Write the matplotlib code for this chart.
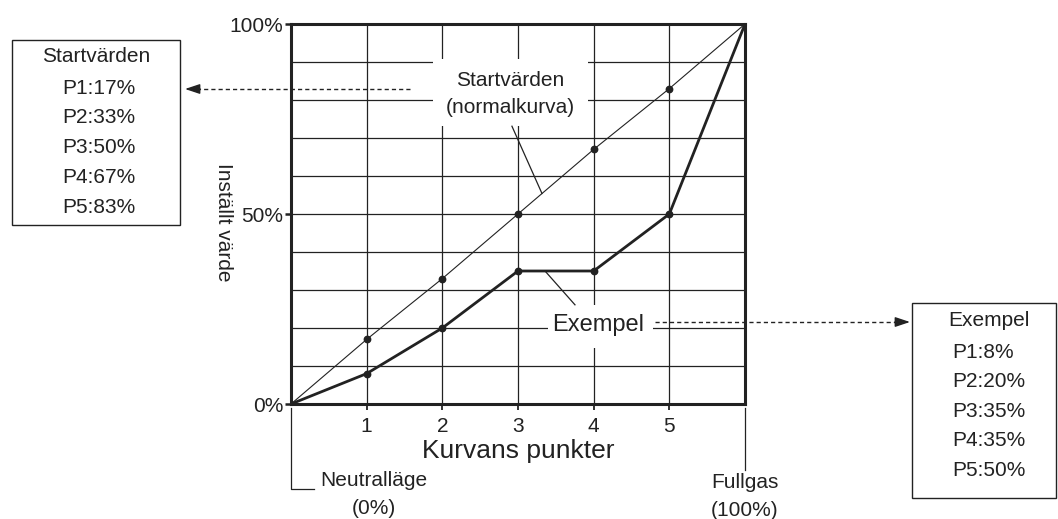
import matplotlib
matplotlib.use("Agg")
import numpy as np
from matplotlib import pyplot as plt
from matplotlib.patches import Rectangle
from matplotlib.lines import Line2D
from matplotlib.transforms import Affine2D

plt.rcParams['font.family'] = ['Liberation Sans', 'DejaVu Sans']

# curve points 0..6 (0 = neutral, 6 = full throttle)
points = [0, 1, 2, 3, 4, 5, 6]
start_vals = [0, 17, 33, 50, 67, 83, 100]
exempel_vals = [0, 8, 20, 35, 35, 50, 100]
point_labels = ["P1", "P2", "P3", "P4", "P5"]
y_tick_vals = [0, 50, 100]
y_tick_labels = ["0%", "50%", "100%"]

INK = "#222222"
W, H = 1058, 519

fig = plt.figure(figsize=(W / 100, H / 100), dpi=100)
# pixel coordinates measured from the top-left corner
T = Affine2D().scale(1 / W, -1 / H).translate(0, 1) + fig.transFigure

ax = fig.add_axes([291 / W, 115 / H, 454 / W, 380 / H])
ax.set_xlim(0, 6)
ax.set_ylim(0, 100)

# grid
for x in points[1:-1]:
    ax.axvline(x, color=INK, lw=0.9, zorder=1)
for y in range(10, 100, 10):
    ax.axhline(y, color=INK, lw=0.9, zorder=1)

# white boxes behind the in-plot labels
ax.add_patch(Rectangle((1.877, 73.1), 2.048, 17.6, facecolor="white",
                       edgecolor="none", zorder=2))
ax.add_patch(Rectangle((3.40, 14.8), 1.38, 11.3, facecolor="white",
                       edgecolor="none", zorder=2))

# curves
ax.plot(points, start_vals, color=INK, lw=0.8, zorder=3)
ax.plot(points[1:-1], start_vals[1:-1], 'o', color=INK, ms=4.6, zorder=4)
ax.plot(points, exempel_vals, color=INK, lw=2.0, zorder=3,
        solid_joinstyle='round')
ax.plot(points[1:-1], exempel_vals[1:-1], 'o', color=INK, ms=4.6, zorder=4)

# pointer lines from the labels to the curves
x0, x1 = 2.92, 3.317
ax.plot([x0, x1], [73.1, np.interp(x1, points, start_vals)], color=INK,
        lw=0.9, zorder=3)
x0, x1 = 3.357, 3.753
ax.plot([x0, x1], [np.interp(x0, points, exempel_vals), 26.1], color=INK,
        lw=0.9, zorder=3)

ax.text(2.894, 85.0, "Startvärden", ha="center", va="center", fontsize=15,
        color=INK, zorder=5)
ax.text(2.894, 78.1, "(normalkurva)", ha="center", va="center", fontsize=15,
        color=INK, zorder=5)
ax.text(4.06, 20.7, "Exempel", ha="center", va="center", fontsize=17,
        color=INK, zorder=5)

# axes styling
for s in ax.spines.values():
    s.set_linewidth(2.2)
    s.set_color(INK)
    s.set_zorder(6)
ax.set_xticks(points[1:-1])
ax.set_yticks(y_tick_vals)
ax.set_yticklabels(y_tick_labels)
ax.tick_params(axis="x", direction="out", length=4, width=1.3, pad=5,
               labelsize=15, colors=INK)
ax.tick_params(axis="y", direction="out", length=4.5, width=1.8, pad=1,
               labelsize=15, colors=INK)
ax.set_xlabel("Kurvans punkter", fontsize=19, color=INK)
ax.xaxis.set_label_coords(0.5, -0.093)

fig.text(223, 222, "Inställt värde", transform=T, rotation=-90,
         ha="center", va="center", fontsize=15, color=INK)

# neutral / full throttle markers below the axis
fig.add_artist(Line2D([291, 291, 314], [408, 489, 489], transform=T,
                      color=INK, lw=0.9))
fig.text(374, 481, "Neutralläge", transform=T, ha="center", va="center",
         fontsize=15, color=INK)
fig.text(374, 509, "(0%)", transform=T, ha="center", va="center",
         fontsize=15, color=INK)
fig.add_artist(Line2D([745, 745], [408, 470], transform=T, color=INK, lw=0.9))
fig.text(745, 483, "Fullgas", transform=T, ha="center", va="center",
         fontsize=15, color=INK)
fig.text(745, 510, "(100%)", transform=T, ha="center", va="center",
         fontsize=15, color=INK)

# value boxes
fig.add_artist(Rectangle((12, 40), 168, 185, transform=T, fill=False,
                         edgecolor=INK, lw=1.0))
fig.text(96, 57, "Startvärden", transform=T, ha="center", va="center",
         fontsize=15, color=INK)
for i, (lab, v) in enumerate(zip(point_labels, start_vals[1:-1])):
    fig.text(62, 88 + 29.8 * i, f"{lab}:{v}%", transform=T, ha="left",
             va="center", fontsize=15, color=INK)

fig.add_artist(Rectangle((912, 303), 144, 195, transform=T, fill=False,
                         edgecolor=INK, lw=1.0))
fig.text(989, 320, "Exempel", transform=T, ha="center", va="center",
         fontsize=15, color=INK)
for i, (lab, v) in enumerate(zip(point_labels, exempel_vals[1:-1])):
    fig.text(952, 352 + 29.6 * i, f"{lab}:{v}%", transform=T, ha="left",
             va="center", fontsize=15, color=INK)

# dashed leader arrows to the boxes
fig.add_artist(Line2D([410, 196], [89, 89], transform=T, color=INK, lw=1.0,
                      dashes=(3, 2.2)))
fig.add_artist(Line2D([655, 898], [322, 322], transform=T, color=INK, lw=1.0,
                      dashes=(3, 2.2)))
ax.annotate("", xy=(185, 89), xytext=(200, 89), xycoords=T, textcoords=T,
            arrowprops=dict(arrowstyle="-|>,head_length=0.9,head_width=0.3",
                            color=INK, lw=1.0, shrinkA=0, shrinkB=0))
ax.annotate("", xy=(910, 322), xytext=(895, 322), xycoords=T, textcoords=T,
            arrowprops=dict(arrowstyle="-|>,head_length=0.9,head_width=0.3",
                            color=INK, lw=1.0, shrinkA=0, shrinkB=0))

fig.savefig("out.png", dpi=100)
